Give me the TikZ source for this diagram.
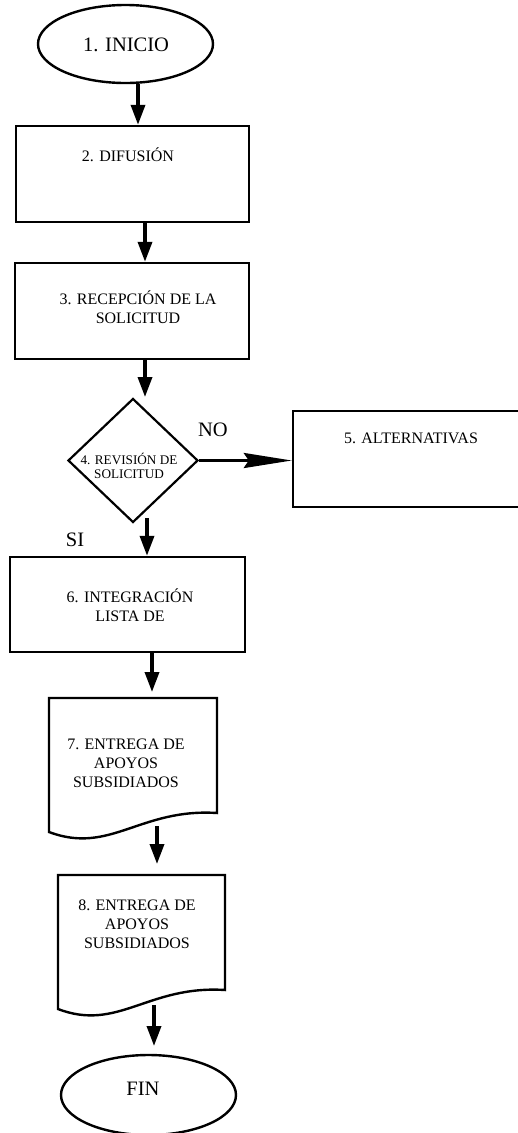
\documentclass[tikz,border=0pt]{standalone}
\usepackage{fontspec}
\setmainfont{Liberation Serif}
\usetikzlibrary{shapes.geometric,arrows.meta}

\tikzset{
  boxshape/.style={draw, line width=2.4pt, rectangle, inner sep=0pt},
  termshape/.style={draw, line width=2.4pt, ellipse, inner sep=0pt},
  decshape/.style={draw, line width=2.2pt, diamond, inner sep=0pt},
  doc/.style={draw, line width=2.4pt, line join=miter},
  flow/.style={line width=3.5pt, -{Triangle[length=20pt,width=14pt]}},
  noflow/.style={line width=3pt, -{Stealth[length=48pt,width=15pt,inset=5pt]}},
  boxtext/.style={align=center, font=\fontsize{16}{19}\selectfont, inner sep=0pt},
  bigtext/.style={align=center, font=\fontsize{20.5}{24}\selectfont, inner sep=0pt},
  smalltext/.style={align=center, font=\fontsize{13.2}{14.5}\selectfont, inner sep=0pt}
}

\begin{document}
\begin{tikzpicture}[x=1pt,y=-1pt]
\useasboundingbox (0,0) rectangle (517,1133);

% shapes
\node[termshape, minimum width=175pt, minimum height=78pt] (inicio) at (125.5,44) {};
\node[boxshape, minimum width=233pt, minimum height=96pt] (b2) at (132.5,174) {};
\node[boxshape, minimum width=234pt, minimum height=96pt] (b3) at (132,311) {};
\node[decshape, minimum width=130pt, minimum height=124pt] (d4) at (133,460.5) {};
\node[boxshape, minimum width=247pt, minimum height=96pt] (b5) at (416.5,459) {};
\node[boxshape, minimum width=235pt, minimum height=95pt] (b6) at (127.5,604.5) {};
\node[termshape, minimum width=175pt, minimum height=80pt] (fin) at (148.5,1095) {};

% document shapes
\draw[doc] (49,698) -- (217,698) -- (217,813)
  .. controls (140,808) and (110,855) .. (49,832) -- cycle;
\draw[doc] (58,875) -- (225,875) -- (225,990)
  .. controls (148,985) and (118,1032) .. (58,1009) -- cycle;

% texts
\node[bigtext] (t1) at (126,45) {1. INICIO};
\node[boxtext] (t2) at (128,155) {2. DIFUSIÓN};
\node[boxtext] (t3) at (138,307.5) {3. RECEPCIÓN DE LA\\SOLICITUD};
\node[smalltext] (t4) at (129,466) {4. REVISIÓN DE\\SOLICITUD};
\node[boxtext] (t5) at (411,438) {5. ALTERNATIVAS};
\node[boxtext] (t6) at (130,605) {6. INTEGRACIÓN\\LISTA DE};
\node[boxtext] (t7) at (126,763.5) {7. ENTREGA DE\\APOYOS\\SUBSIDIADOS};
\node[boxtext] (t8) at (137,924.5) {8. ENTREGA DE\\APOYOS\\SUBSIDIADOS};
\node[bigtext] (tfin) at (143,1089) {FIN};
\node[bigtext] (no) at (213,430) {NO};
\node[bigtext] (si) at (75,540) {SI};

% connector guide points
\coordinate (x1) at (138,0);
\coordinate (x2) at (145,0);
\coordinate (a3e) at (145,397);
\coordinate (a4s) at (147,518);
\coordinate (x5) at (152,0);
\coordinate (a5e) at (152,692);
\coordinate (a6s) at (157,826);
\coordinate (a6e) at (157,864);
\coordinate (a7s) at (154,1005);
\coordinate (a7e) at (154,1046);

% connectors
\draw[flow] (inicio.south -| x1) -- (b2.north -| x1);
\draw[flow] (b2.south -| x2) -- (b3.north -| x2);
\draw[flow] (b3.south -| x2) -- (a3e);
\draw[noflow] (d4.east) -- (b5.west |- d4.east);
\draw[flow] (a4s) -- (b6.north -| a4s);
\draw[flow] (b6.south -| x5) -- (a5e);
\draw[flow] (a6s) -- (a6e);
\draw[flow] (a7s) -- (a7e);
\end{tikzpicture}
\end{document}
